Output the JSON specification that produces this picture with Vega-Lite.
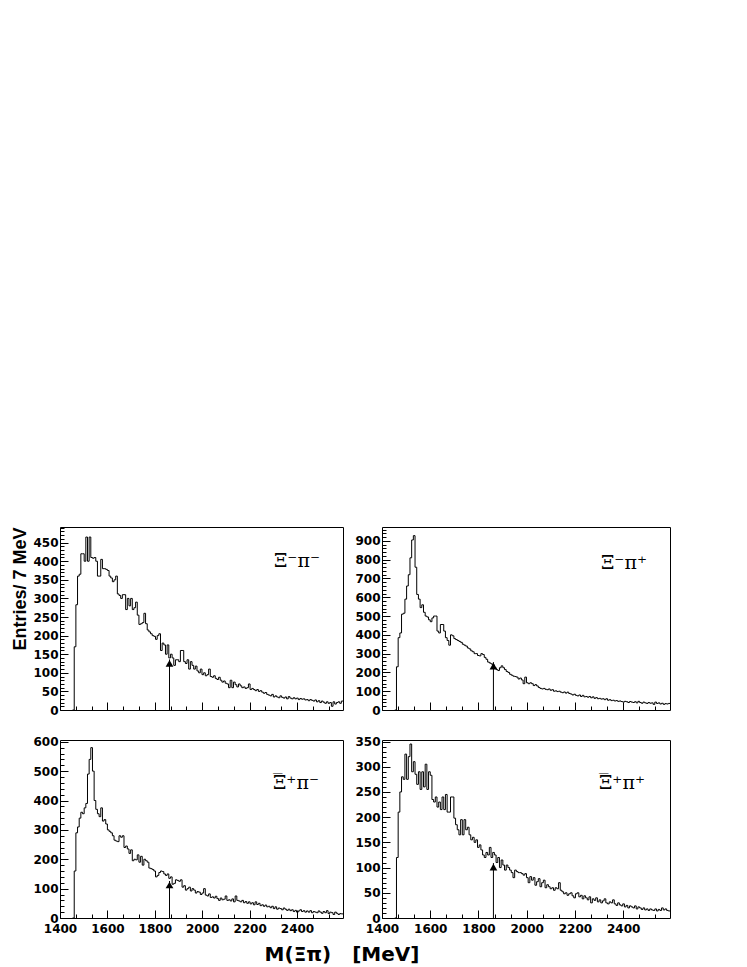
{
  "$schema": "https://vega.github.io/schema/vega-lite/v6.json",
  "background": "white",
  "padding": {"left": 11, "top": 521, "right": 10, "bottom": 2},
  "title": {"text": "M(Ξπ)\u00a0\u00a0\u00a0[MeV]", "orient": "bottom", "anchor": "middle", "offset": 6, "baseline": "top", "font": "DejaVu Sans", "fontSize": 20, "fontWeight": "bold", "color": "black"},
  "config": {
    "view": {"stroke": "black", "strokeWidth": 1},
    "axis": {"domain": false, "grid": false, "ticks": true, "tickColor": "black", "tickWidth": 1, "tickCount": 200, "labelFont": "DejaVu Sans", "labelFontSize": 12, "labelFontWeight": "bold", "labelColor": "black", "labelOverlap": false, "labelFlush": false, "labelBound": false},
    "title": {"color": "black"}
  },
  "datasets": {
    "hist": [
      {"m":1453,"a":0,"b":0,"c":0,"d":0},
      {"m":1460,"a":170,"b":230,"c":160,"d":120},
      {"m":1467,"a":283,"b":385,"c":290,"d":210},
      {"m":1474,"a":360,"b":410,"c":310,"d":250},
      {"m":1481,"a":365,"b":510,"c":340,"d":280},
      {"m":1488,"a":420,"b":515,"c":360,"d":275},
      {"m":1495,"a":420,"b":590,"c":355,"d":325},
      {"m":1502,"a":400,"b":660,"c":375,"d":275},
      {"m":1509,"a":465,"b":720,"c":390,"d":320},
      {"m":1516,"a":400,"b":810,"c":490,"d":345},
      {"m":1523,"a":465,"b":905,"c":540,"d":290},
      {"m":1530,"a":410,"b":928,"c":580,"d":310},
      {"m":1537,"a":408,"b":760,"c":500,"d":285},
      {"m":1544,"a":410,"b":615,"c":400,"d":265},
      {"m":1551,"a":400,"b":590,"c":370,"d":290},
      {"m":1558,"a":360,"b":545,"c":355,"d":255},
      {"m":1565,"a":360,"b":560,"c":345,"d":290},
      {"m":1572,"a":405,"b":520,"c":375,"d":260},
      {"m":1579,"a":380,"b":500,"c":330,"d":305},
      {"m":1586,"a":380,"b":495,"c":335,"d":255},
      {"m":1593,"a":378,"b":480,"c":320,"d":290},
      {"m":1600,"a":375,"b":470,"c":300,"d":283},
      {"m":1607,"a":360,"b":490,"c":295,"d":235},
      {"m":1614,"a":355,"b":500,"c":290,"d":230},
      {"m":1621,"a":345,"b":500,"c":280,"d":240},
      {"m":1628,"a":350,"b":420,"c":265,"d":220},
      {"m":1635,"a":360,"b":410,"c":262,"d":230},
      {"m":1642,"a":312,"b":455,"c":260,"d":215},
      {"m":1649,"a":308,"b":455,"c":280,"d":240},
      {"m":1656,"a":300,"b":420,"c":275,"d":215},
      {"m":1663,"a":310,"b":385,"c":280,"d":245},
      {"m":1670,"a":310,"b":370,"c":240,"d":210},
      {"m":1677,"a":270,"b":345,"c":245,"d":210},
      {"m":1684,"a":300,"b":400,"c":235,"d":240},
      {"m":1691,"a":280,"b":395,"c":220,"d":240},
      {"m":1698,"a":300,"b":380,"c":232,"d":198},
      {"m":1705,"a":270,"b":375,"c":195,"d":185},
      {"m":1712,"a":275,"b":370,"c":200,"d":175},
      {"m":1719,"a":290,"b":365,"c":198,"d":165},
      {"m":1726,"a":255,"b":360,"c":215,"d":195},
      {"m":1733,"a":230,"b":350,"c":190,"d":165},
      {"m":1740,"a":232,"b":345,"c":210,"d":195},
      {"m":1747,"a":235,"b":340,"c":180,"d":175},
      {"m":1754,"a":260,"b":330,"c":200,"d":180},
      {"m":1761,"a":232,"b":325,"c":195,"d":165},
      {"m":1768,"a":215,"b":315,"c":190,"d":155},
      {"m":1775,"a":210,"b":310,"c":170,"d":160},
      {"m":1782,"a":205,"b":300,"c":168,"d":150},
      {"m":1789,"a":200,"b":300,"c":165,"d":155},
      {"m":1796,"a":198,"b":290,"c":160,"d":140},
      {"m":1803,"a":190,"b":288,"c":140,"d":145},
      {"m":1810,"a":200,"b":300,"c":145,"d":135},
      {"m":1817,"a":205,"b":295,"c":155,"d":125},
      {"m":1824,"a":160,"b":280,"c":160,"d":120},
      {"m":1831,"a":180,"b":270,"c":158,"d":130},
      {"m":1838,"a":175,"b":255,"c":150,"d":125},
      {"m":1845,"a":150,"b":250,"c":145,"d":140},
      {"m":1852,"a":175,"b":245,"c":150,"d":120},
      {"m":1859,"a":140,"b":240,"c":135,"d":130},
      {"m":1866,"a":150,"b":225,"c":140,"d":125},
      {"m":1873,"a":140,"b":215,"c":115,"d":110},
      {"m":1880,"a":120,"b":210,"c":118,"d":120},
      {"m":1887,"a":135,"b":225,"c":130,"d":100},
      {"m":1894,"a":135,"b":235,"c":128,"d":115},
      {"m":1901,"a":130,"b":225,"c":125,"d":105},
      {"m":1908,"a":160,"b":215,"c":130,"d":95},
      {"m":1915,"a":160,"b":205,"c":105,"d":105},
      {"m":1922,"a":130,"b":200,"c":110,"d":100},
      {"m":1929,"a":125,"b":190,"c":95,"d":95},
      {"m":1936,"a":135,"b":185,"c":100,"d":90},
      {"m":1943,"a":110,"b":180,"c":105,"d":80},
      {"m":1950,"a":130,"b":178,"c":92,"d":95},
      {"m":1957,"a":120,"b":175,"c":100,"d":92},
      {"m":1964,"a":110,"b":165,"c":95,"d":90},
      {"m":1971,"a":118,"b":170,"c":85,"d":90},
      {"m":1978,"a":105,"b":160,"c":90,"d":88},
      {"m":1985,"a":100,"b":140,"c":88,"d":85},
      {"m":1992,"a":110,"b":175,"c":80,"d":88},
      {"m":1999,"a":95,"b":145,"c":85,"d":80},
      {"m":2006,"a":100,"b":140,"c":100,"d":70},
      {"m":2013,"a":92,"b":145,"c":78,"d":82},
      {"m":2020,"a":95,"b":140,"c":75,"d":75},
      {"m":2027,"a":110,"b":130,"c":82,"d":80},
      {"m":2034,"a":90,"b":135,"c":70,"d":65},
      {"m":2041,"a":88,"b":128,"c":72,"d":72},
      {"m":2048,"a":92,"b":120,"c":68,"d":78},
      {"m":2055,"a":85,"b":115,"c":74,"d":62},
      {"m":2062,"a":82,"b":112,"c":66,"d":70},
      {"m":2069,"a":88,"b":115,"c":60,"d":75},
      {"m":2076,"a":80,"b":110,"c":68,"d":60},
      {"m":2083,"a":75,"b":108,"c":62,"d":66},
      {"m":2090,"a":78,"b":112,"c":64,"d":62},
      {"m":2097,"a":72,"b":105,"c":75,"d":58},
      {"m":2104,"a":70,"b":108,"c":60,"d":60},
      {"m":2111,"a":60,"b":100,"c":62,"d":55},
      {"m":2118,"a":80,"b":102,"c":58,"d":60},
      {"m":2125,"a":60,"b":98,"c":65,"d":58},
      {"m":2132,"a":75,"b":100,"c":55,"d":70},
      {"m":2139,"a":68,"b":95,"c":75,"d":55},
      {"m":2146,"a":62,"b":92,"c":60,"d":52},
      {"m":2153,"a":70,"b":96,"c":58,"d":48},
      {"m":2160,"a":65,"b":90,"c":55,"d":50},
      {"m":2167,"a":60,"b":95,"c":60,"d":45},
      {"m":2174,"a":62,"b":88,"c":52,"d":48},
      {"m":2181,"a":58,"b":85,"c":56,"d":50},
      {"m":2188,"a":60,"b":80,"c":50,"d":44},
      {"m":2195,"a":70,"b":84,"c":55,"d":40},
      {"m":2202,"a":55,"b":78,"c":48,"d":48},
      {"m":2209,"a":58,"b":75,"c":52,"d":50},
      {"m":2216,"a":55,"b":80,"c":45,"d":42},
      {"m":2223,"a":52,"b":72,"c":55,"d":45},
      {"m":2230,"a":55,"b":78,"c":46,"d":38},
      {"m":2237,"a":50,"b":70,"c":50,"d":44},
      {"m":2244,"a":52,"b":72,"c":42,"d":40},
      {"m":2251,"a":48,"b":68,"c":45,"d":36},
      {"m":2258,"a":45,"b":72,"c":40,"d":42},
      {"m":2265,"a":47,"b":65,"c":44,"d":30},
      {"m":2272,"a":42,"b":70,"c":38,"d":38},
      {"m":2279,"a":40,"b":62,"c":40,"d":35},
      {"m":2286,"a":38,"b":66,"c":35,"d":40},
      {"m":2293,"a":42,"b":60,"c":40,"d":32},
      {"m":2300,"a":35,"b":62,"c":32,"d":36},
      {"m":2307,"a":38,"b":58,"c":38,"d":30},
      {"m":2314,"a":35,"b":60,"c":30,"d":34},
      {"m":2321,"a":33,"b":55,"c":34,"d":38},
      {"m":2328,"a":38,"b":60,"c":32,"d":30},
      {"m":2335,"a":34,"b":52,"c":28,"d":28},
      {"m":2342,"a":32,"b":55,"c":34,"d":32},
      {"m":2349,"a":35,"b":50,"c":30,"d":30},
      {"m":2356,"a":30,"b":52,"c":26,"d":36},
      {"m":2363,"a":36,"b":48,"c":30,"d":28},
      {"m":2370,"a":32,"b":50,"c":25,"d":25},
      {"m":2377,"a":30,"b":46,"c":28,"d":30},
      {"m":2384,"a":33,"b":48,"c":22,"d":26},
      {"m":2391,"a":30,"b":45,"c":26,"d":24},
      {"m":2398,"a":32,"b":42,"c":20,"d":28},
      {"m":2405,"a":28,"b":46,"c":24,"d":22},
      {"m":2412,"a":31,"b":44,"c":28,"d":25},
      {"m":2419,"a":29,"b":40,"c":22,"d":20},
      {"m":2426,"a":30,"b":45,"c":25,"d":24},
      {"m":2433,"a":27,"b":42,"c":20,"d":22},
      {"m":2440,"a":28,"b":40,"c":24,"d":20},
      {"m":2447,"a":25,"b":44,"c":20,"d":24},
      {"m":2454,"a":28,"b":38,"c":25,"d":18},
      {"m":2461,"a":26,"b":46,"c":18,"d":22},
      {"m":2468,"a":24,"b":40,"c":22,"d":20},
      {"m":2475,"a":27,"b":36,"c":20,"d":17},
      {"m":2482,"a":22,"b":42,"c":18,"d":20},
      {"m":2489,"a":25,"b":38,"c":24,"d":16},
      {"m":2496,"a":20,"b":35,"c":20,"d":18},
      {"m":2503,"a":24,"b":40,"c":16,"d":15},
      {"m":2510,"a":21,"b":36,"c":22,"d":18},
      {"m":2517,"a":18,"b":38,"c":18,"d":16},
      {"m":2524,"a":22,"b":30,"c":25,"d":15},
      {"m":2531,"a":18,"b":42,"c":15,"d":18},
      {"m":2538,"a":20,"b":35,"c":20,"d":14},
      {"m":2545,"a":10,"b":38,"c":18,"d":17},
      {"m":2552,"a":22,"b":32,"c":12,"d":15},
      {"m":2559,"a":16,"b":36,"c":20,"d":20},
      {"m":2566,"a":20,"b":30,"c":16,"d":16},
      {"m":2573,"a":22,"b":34,"c":12,"d":18},
      {"m":2580,"a":18,"b":32,"c":15,"d":15},
      {"m":2587,"a":24,"b":35,"c":14,"d":14},
      {"m":2594,"a":24,"b":35,"c":14,"d":14}
    ],
    "arrows": [
      {"p":"a","m":1862,"tip":136},
      {"p":"b","m":1862,"tip":255},
      {"p":"c","m":1862,"tip":126},
      {"p":"d","m":1862,"tip":109}
    ]
  },
  "columns": 2,
  "spacing": {"row": 30, "column": 39},
  "bounds": "flush",
  "align": "each",
  "concat": [
    {
      "width": 283, "height": 183,
      "title": {"text": "Ξ⁻π⁻", "orient": "top", "anchor": "start", "align": "left", "frame": "group", "offset": -68, "dx": 214, "baseline": "bottom", "font": "DejaVu Serif", "fontSize": 19, "fontWeight": "normal"},
      "layer": [
        {"data": {"name": "hist"}, "mark": {"type": "line", "interpolate": "step-after", "color": "black", "strokeWidth": 1},
         "encoding": {
           "x": {"field": "m", "type": "quantitative", "scale": {"domain": [1400, 2594], "nice": false, "zero": false},
                 "axis": {"title": null, "labels": false, "tickCount": 200, "values": [1400,1466.667,1533.333,1600,1666.667,1733.333,1800,1866.667,1933.333,2000,2066.667,2133.333,2200,2266.667,2333.333,2400,2466.667,2533.333],
                          "tickSize": {"condition": {"test": "datum.value % 200 == 0", "value": -8}, "value": -4}}},
           "y": {"field": "a", "type": "quantitative", "scale": {"domain": [0, 492], "nice": false},
                 "axis": {"title": "Entries/ 7 MeV", "titleFont": "Liberation Sans", "titleFontSize": 18, "titleFontWeight": "bold", "titleColor": "black", "titleAnchor": "end", "titlePadding": 3, "tickCount": 200,
                          "values": [0,10,20,30,40,50,60,70,80,90,100,110,120,130,140,150,160,170,180,190,200,210,220,230,240,250,260,270,280,290,300,310,320,330,340,350,360,370,380,390,400,410,420,430,440,450,460,470,480,490],
                          "format": "d", "labelOverlap": false, "labelExpr": "datum.value % 50 == 0 ? datum.label : ''", "labelPadding": 10,
                          "tickSize": {"condition": {"test": "datum.value % 50 == 0", "value": -8}, "value": -4}}}
         }},
        {"data": {"name": "arrows"}, "transform": [{"filter": "datum.p == 'a'"}], "mark": {"type": "rule", "color": "black", "strokeWidth": 1},
         "encoding": {"x": {"field": "m", "type": "quantitative"}, "y": {"field": "tip", "type": "quantitative"}, "y2": {"datum": 0}}},
        {"data": {"name": "arrows"}, "transform": [{"filter": "datum.p == 'a'"}], "mark": {"type": "point", "shape": "triangle-up", "filled": true, "color": "black", "opacity": 1, "size": 60, "yOffset": 4},
         "encoding": {"x": {"field": "m", "type": "quantitative"}, "y": {"field": "tip", "type": "quantitative"}}}
      ]
    },
    {
      "width": 288, "height": 183,
      "title": {"text": "Ξ⁻π⁺", "orient": "top", "anchor": "start", "align": "left", "frame": "group", "offset": -68, "dx": 219, "baseline": "bottom", "font": "DejaVu Serif", "fontSize": 19, "fontWeight": "normal"},
      "layer": [
        {"data": {"name": "hist"}, "mark": {"type": "line", "interpolate": "step-after", "color": "black", "strokeWidth": 1},
         "encoding": {
           "x": {"field": "m", "type": "quantitative", "scale": {"domain": [1400, 2594], "nice": false, "zero": false},
                 "axis": {"title": null, "labels": false, "tickCount": 200, "values": [1400,1466.667,1533.333,1600,1666.667,1733.333,1800,1866.667,1933.333,2000,2066.667,2133.333,2200,2266.667,2333.333,2400,2466.667,2533.333],
                          "tickSize": {"condition": {"test": "datum.value % 200 == 0", "value": -8}, "value": -4}}},
           "y": {"field": "b", "type": "quantitative", "scale": {"domain": [0, 974], "nice": false},
                 "axis": {"title": null, "tickCount": 200,
                          "values": [0,20,40,60,80,100,120,140,160,180,200,220,240,260,280,300,320,340,360,380,400,420,440,460,480,500,520,540,560,580,600,620,640,660,680,700,720,740,760,780,800,820,840,860,880,900,920,940,960],
                          "format": "d", "labelOverlap": false, "labelExpr": "datum.value % 100 == 0 ? datum.label : ''", "labelPadding": 10,
                          "tickSize": {"condition": {"test": "datum.value % 100 == 0", "value": -8}, "value": -4}}}
         }},
        {"data": {"name": "arrows"}, "transform": [{"filter": "datum.p == 'b'"}], "mark": {"type": "rule", "color": "black", "strokeWidth": 1},
         "encoding": {"x": {"field": "m", "type": "quantitative"}, "y": {"field": "tip", "type": "quantitative"}, "y2": {"datum": 0}}},
        {"data": {"name": "arrows"}, "transform": [{"filter": "datum.p == 'b'"}], "mark": {"type": "point", "shape": "triangle-up", "filled": true, "color": "black", "opacity": 1, "size": 60, "yOffset": 4},
         "encoding": {"x": {"field": "m", "type": "quantitative"}, "y": {"field": "tip", "type": "quantitative"}}}
      ]
    },
    {
      "width": 283, "height": 178,
      "title": {"text": ["_", "Ξ⁺π⁻"], "lineHeight": 20, "orient": "top", "anchor": "start", "align": "left", "frame": "group", "offset": -76, "dx": 213, "baseline": "bottom", "font": "DejaVu Serif", "fontSize": 19, "fontWeight": "normal"},
      "layer": [
        {"data": {"name": "hist"}, "mark": {"type": "line", "interpolate": "step-after", "color": "black", "strokeWidth": 1},
         "encoding": {
           "x": {"field": "m", "type": "quantitative", "scale": {"domain": [1400, 2594], "nice": false, "zero": false},
                 "axis": {"title": null, "tickCount": 200, "values": [1400,1466.667,1533.333,1600,1666.667,1733.333,1800,1866.667,1933.333,2000,2066.667,2133.333,2200,2266.667,2333.333,2400,2466.667,2533.333],
                          "format": "d", "labelOverlap": false, "labelExpr": "datum.value % 200 == 0 ? datum.label : ''", "labelPadding": 13,
                          "tickSize": {"condition": {"test": "datum.value % 200 == 0", "value": -8}, "value": -4}}},
           "y": {"field": "c", "type": "quantitative", "scale": {"domain": [0, 606], "nice": false},
                 "axis": {"title": null, "tickCount": 200,
                          "values": [0,20,40,60,80,100,120,140,160,180,200,220,240,260,280,300,320,340,360,380,400,420,440,460,480,500,520,540,560,580,600],
                          "format": "d", "labelOverlap": false, "labelExpr": "datum.value % 100 == 0 ? datum.label : ''", "labelPadding": 10,
                          "tickSize": {"condition": {"test": "datum.value % 100 == 0", "value": -8}, "value": -4}}}
         }},
        {"data": {"name": "arrows"}, "transform": [{"filter": "datum.p == 'c'"}], "mark": {"type": "rule", "color": "black", "strokeWidth": 1},
         "encoding": {"x": {"field": "m", "type": "quantitative"}, "y": {"field": "tip", "type": "quantitative"}, "y2": {"datum": 0}}},
        {"data": {"name": "arrows"}, "transform": [{"filter": "datum.p == 'c'"}], "mark": {"type": "point", "shape": "triangle-up", "filled": true, "color": "black", "opacity": 1, "size": 60, "yOffset": 4},
         "encoding": {"x": {"field": "m", "type": "quantitative"}, "y": {"field": "tip", "type": "quantitative"}}}
      ]
    },
    {
      "width": 288, "height": 178,
      "title": {"text": ["_", "Ξ⁺π⁺"], "lineHeight": 20, "orient": "top", "anchor": "start", "align": "left", "frame": "group", "offset": -76, "dx": 217, "baseline": "bottom", "font": "DejaVu Serif", "fontSize": 19, "fontWeight": "normal"},
      "layer": [
        {"data": {"name": "hist"}, "mark": {"type": "line", "interpolate": "step-after", "color": "black", "strokeWidth": 1},
         "encoding": {
           "x": {"field": "m", "type": "quantitative", "scale": {"domain": [1400, 2594], "nice": false, "zero": false},
                 "axis": {"title": null, "tickCount": 200, "values": [1400,1466.667,1533.333,1600,1666.667,1733.333,1800,1866.667,1933.333,2000,2066.667,2133.333,2200,2266.667,2333.333,2400,2466.667,2533.333],
                          "format": "d", "labelOverlap": false, "labelExpr": "datum.value % 200 == 0 ? datum.label : ''", "labelPadding": 13,
                          "tickSize": {"condition": {"test": "datum.value % 200 == 0", "value": -8}, "value": -4}}},
           "y": {"field": "d", "type": "quantitative", "scale": {"domain": [0, 353], "nice": false},
                 "axis": {"title": null, "tickCount": 200,
                          "values": [0,10,20,30,40,50,60,70,80,90,100,110,120,130,140,150,160,170,180,190,200,210,220,230,240,250,260,270,280,290,300,310,320,330,340,350],
                          "format": "d", "labelOverlap": false, "labelExpr": "datum.value % 50 == 0 ? datum.label : ''", "labelPadding": 10,
                          "tickSize": {"condition": {"test": "datum.value % 50 == 0", "value": -8}, "value": -4}}}
         }},
        {"data": {"name": "arrows"}, "transform": [{"filter": "datum.p == 'd'"}], "mark": {"type": "rule", "color": "black", "strokeWidth": 1},
         "encoding": {"x": {"field": "m", "type": "quantitative"}, "y": {"field": "tip", "type": "quantitative"}, "y2": {"datum": 0}}},
        {"data": {"name": "arrows"}, "transform": [{"filter": "datum.p == 'd'"}], "mark": {"type": "point", "shape": "triangle-up", "filled": true, "color": "black", "opacity": 1, "size": 60, "yOffset": 4},
         "encoding": {"x": {"field": "m", "type": "quantitative"}, "y": {"field": "tip", "type": "quantitative"}}}
      ]
    }
  ]
}
